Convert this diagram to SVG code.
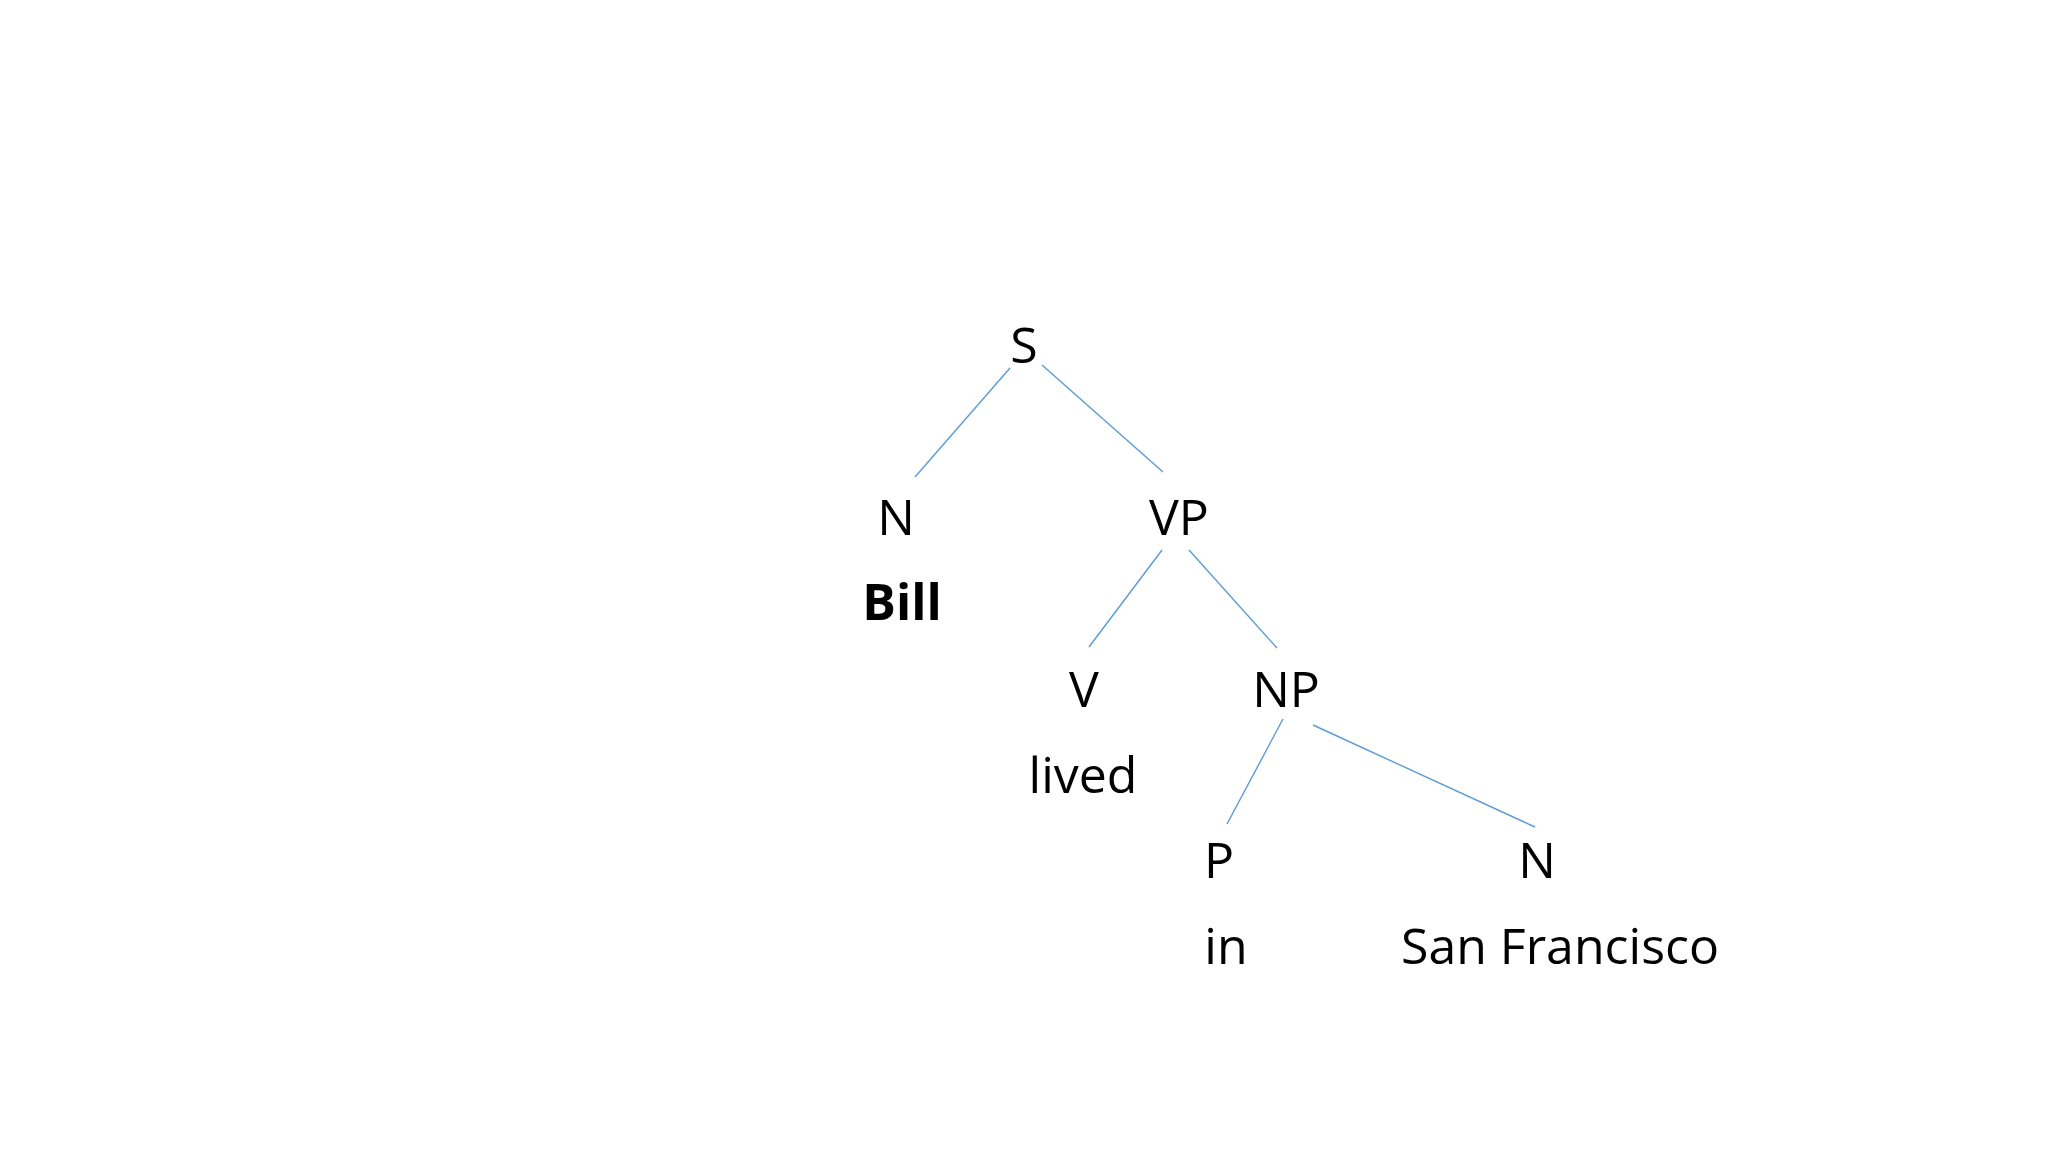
<svg xmlns="http://www.w3.org/2000/svg" width="2048" height="1152" viewBox="0 0 2048 1152">
<style>
text{font-family:"Open Sans","Liberation Sans",sans-serif;font-size:50px;fill:#000;text-anchor:middle}
.b{font-weight:bold}
.e{stroke:#5B9BD5;stroke-width:1.4;fill:none}
</style>
<rect width="2048" height="1152" fill="#ffffff"/>
<g id="connectors">
<line class="e" x1="1010" y1="368" x2="915" y2="477"/>
<line class="e" x1="1042" y1="365" x2="1163" y2="472"/>
<line class="e" x1="1162" y1="550" x2="1089" y2="647"/>
<line class="e" x1="1189" y1="550" x2="1277" y2="648"/>
<line class="e" x1="1283" y1="719" x2="1227" y2="824"/>
<line class="e" x1="1313" y1="725" x2="1535" y2="827"/>
</g>
<g id="node-S"><text x="1024" y="363">S</text></g>
<g id="node-N1"><text x="896" y="535">N</text><text class="b" x="902" y="620">Bill</text></g>
<g id="node-VP"><text x="1179" y="535">VP</text></g>
<g id="node-V"><text x="1084" y="707">V</text><text x="1083" y="793">lived</text></g>
<g id="node-NP"><text x="1286" y="707">NP</text></g>
<g id="node-P"><text x="1219" y="878">P</text><text x="1226" y="964">in</text></g>
<g id="node-N2"><text x="1537" y="878">N</text><text x="1560" y="964">San Francisco</text></g>
</svg>
